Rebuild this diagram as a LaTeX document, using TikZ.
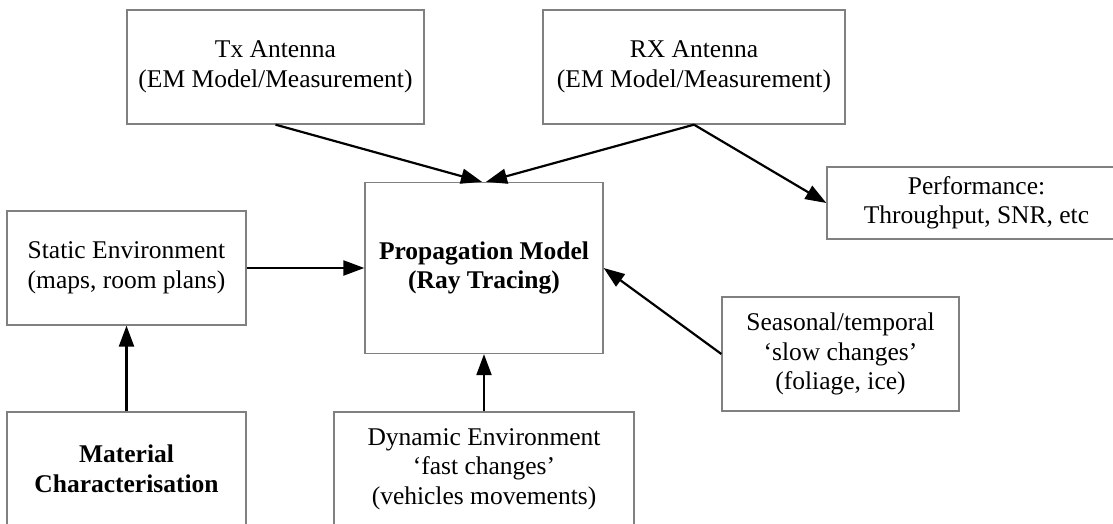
\documentclass[tikz,border=0pt]{standalone}
\usepackage{fontspec}
\setmainfont{Liberation Serif}
\usetikzlibrary{arrows.meta}
\definecolor{boxgray}{HTML}{808080}
\begin{document}
\begin{tikzpicture}[x=1pt,y=-1pt,
  box/.style={draw=boxgray,line width=1.3pt,fill=white,align=center,inner sep=0pt,
              font=\fontsize{25.5}{29.5}\selectfont},
  boldbox/.style={box,font=\fontsize{25.5}{29.5}\selectfont\bfseries},
  conn/.style={line width=2.2pt,-{Triangle[length=21pt,width=15pt]}}]
\clip (0,0) rectangle (1113,523);
\node[box, minimum width=297pt, minimum height=114pt] (tx) at (275.5,67) {Tx Antenna\\(EM Model/Measurement)};
\node[box, minimum width=302pt, minimum height=114pt] (rx) at (694,67) {RX Antenna\\(EM Model/Measurement)};
\node[box, minimum width=299pt, minimum height=72pt] (perf) at (976.5,203) {Performance:\\Throughput, SNR, etc};
\node[box, minimum width=239pt, minimum height=114pt] (static) at (126.5,268) {Static Environment\\(maps, room plans)};
\node[boldbox, minimum width=238pt, minimum height=171pt] (prop) at (484,268) {Propagation Model\\(Ray Tracing)};
\node[box, minimum width=237pt, minimum height=114pt] (seas) at (840.5,354) {Seasonal/temporal\\‘slow changes’\\(foliage, ice)};
\node[boldbox, minimum width=239pt, minimum height=114pt] (mat) at (126.5,469) {Material\\Characterisation};
\node[box, minimum width=300pt, minimum height=114pt] (dyn) at (484,469) {Dynamic Environment\\‘fast changes’\\(vehicles movements)};
\draw[conn] (tx.south) -- ([xshift=-2pt]prop.north);
\draw[conn] (rx.south) -- ([xshift=2pt]prop.north);
\draw[conn] (rx.south) -- (perf.west);
\draw[conn] (static.east) -- (prop.west);
\draw[conn] (mat.north) -- (static.south);
\draw[conn] (dyn.north) -- (prop.south);
\draw[conn] (seas.west) -- (prop.east);
\end{tikzpicture}
\end{document}
